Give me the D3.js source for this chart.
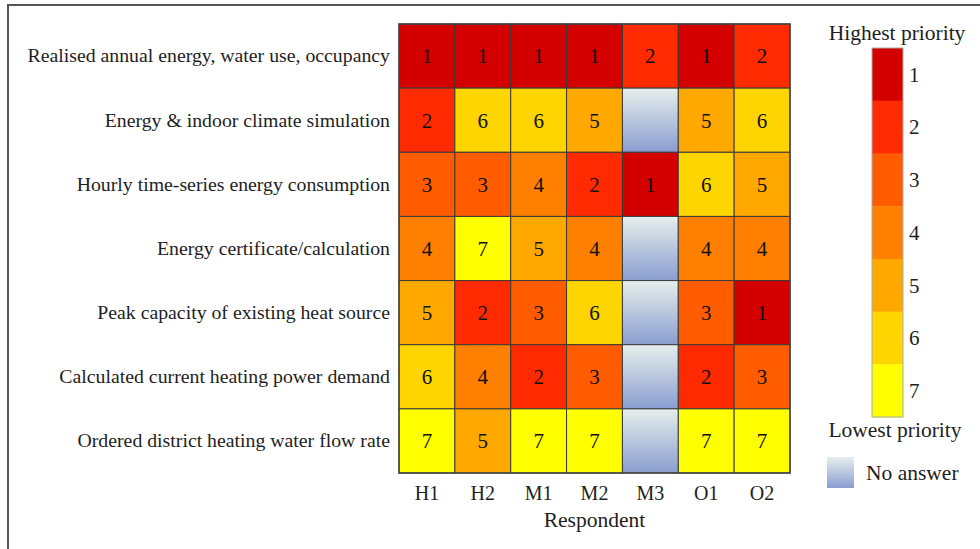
<!DOCTYPE html>
<html>
<head>
<meta charset="utf-8">
<script src="https://cdn.jsdelivr.net/npm/d3@7"></script>
<style>
  html, body { margin: 0; padding: 0; background: #fff; }
  svg { display: block; }
  svg text { font-family: "Liberation Serif", "DejaVu Serif", serif; }
</style>
</head>
<body>
<div id="chart"></div>
<script>
const criteria = [
  'Realised annual energy, water use, occupancy',
  'Energy & indoor climate simulation',
  'Hourly time-series energy consumption',
  'Energy certificate/calculation',
  'Peak capacity of existing heat source',
  'Calculated current heating power demand',
  'Ordered district heating water flow rate'
];
const respondents = ['H1', 'H2', 'M1', 'M2', 'M3', 'O1', 'O2'];
// one array per respondent, ordered like criteria; null = no answer
const rankH1 = [1, 2, 3, 4, 5, 6, 7];
const rankH2 = [1, 6, 3, 7, 2, 4, 5];
const rankM1 = [1, 6, 4, 5, 3, 2, 7];
const rankM2 = [1, 5, 2, 4, 6, 3, 7];
const rankM3 = [2, null, 1, null, null, null, null];
const rankO1 = [1, 5, 6, 4, 3, 2, 7];
const rankO2 = [2, 6, 5, 4, 1, 3, 7];
const priorities = [1, 2, 3, 4, 5, 6, 7];
const priorityColors = ['#d40000', '#ff2a00', '#ff5c00', '#ff8000', '#ffa800', '#ffd500', '#ffff00'];

const ranks = [rankH1, rankH2, rankM1, rankM2, rankM3, rankO1, rankO2];
const cells = [];
respondents.forEach((r, i) => {
  criteria.forEach((c, j) => cells.push({ respondent: r, criterion: c, value: ranks[i][j] }));
});

const width = 980, height = 549;
const margin = { top: 24, left: 399, right: 190, bottom: 76 };
const innerW = width - margin.left - margin.right;
const innerH = height - margin.top - margin.bottom;
const ink = '#1e1e1e';

const svg = d3.select('#chart').append('svg').attr('width', width).attr('height', height);

const defs = svg.append('defs');
const grad = defs.append('linearGradient').attr('id', 'noAnswer').attr('x1', 0).attr('y1', 0).attr('x2', 0).attr('y2', 1);
grad.append('stop').attr('offset', '0%').attr('stop-color', '#e6efec');
grad.append('stop').attr('offset', '100%').attr('stop-color', '#8a9dd0');

// outer frame (only left and top edges are visible in the crop)
svg.append('path')
  .attr('d', `M8,${height} L8,5 L${width},5`)
  .attr('fill', 'none').attr('stroke', '#555').attr('stroke-width', 2);

const g = svg.append('g').attr('transform', `translate(${margin.left},${margin.top})`);

const x = d3.scaleBand().domain(respondents).range([0, innerW]);
const y = d3.scaleBand().domain(criteria).range([0, innerH]);
const color = d3.scaleOrdinal().domain(priorities).range(priorityColors);

g.selectAll('rect.cell').data(cells).enter().append('rect')
  .attr('class', 'cell')
  .attr('x', d => x(d.respondent))
  .attr('y', d => y(d.criterion))
  .attr('width', x.bandwidth())
  .attr('height', y.bandwidth())
  .attr('fill', d => d.value == null ? 'url(#noAnswer)' : color(d.value))
  .attr('stroke', '#3a3a3a')
  .attr('stroke-width', 1);

g.selectAll('text.val').data(cells.filter(d => d.value != null)).enter().append('text')
  .attr('class', 'val')
  .attr('x', d => x(d.respondent) + x.bandwidth() / 2)
  .attr('y', d => y(d.criterion) + y.bandwidth() / 2)
  .attr('dy', '0.35em')
  .attr('text-anchor', 'middle')
  .style('font-size', '21px')
  .attr('fill', '#111')
  .text(d => d.value);

g.append('rect').attr('width', innerW).attr('height', innerH)
  .attr('fill', 'none').attr('stroke', '#444').attr('stroke-width', 1.5);

// row labels
const yAxis = g.append('g').call(d3.axisLeft(y).tickSize(0).tickPadding(9));
yAxis.select('.domain').remove();
yAxis.selectAll('text').style('font-size', '19.8px').attr('fill', ink);

// column labels
const xAxis = g.append('g').attr('transform', `translate(0,${innerH})`)
  .call(d3.axisBottom(x).tickSize(0).tickPadding(13));
xAxis.select('.domain').remove();
xAxis.selectAll('text').style('font-size', '20px').attr('fill', ink);

g.append('text')
  .attr('x', innerW / 2).attr('y', innerH + 54)
  .attr('text-anchor', 'middle').style('font-size', '21.5px').attr('fill', ink)
  .text('Respondent');

// legend colour bar
const legX = 872, legW = 31, legTop = 48, legBottom = 417;
const ly = d3.scaleBand().domain(priorities).range([legTop, legBottom]);
const leg = svg.append('g');
leg.selectAll('rect').data(priorities).enter().append('rect')
  .attr('x', legX).attr('y', d => ly(d))
  .attr('width', legW).attr('height', ly.bandwidth() + 0.5)
  .attr('fill', d => color(d));
leg.append('rect').attr('x', legX).attr('y', legTop).attr('width', legW).attr('height', legBottom - legTop)
  .attr('fill', 'none').attr('stroke', '#aaa').attr('stroke-width', 1);
leg.selectAll('text.tick').data(priorities).enter().append('text')
  .attr('class', 'tick')
  .attr('x', legX + legW + 6).attr('y', d => ly(d) + ly.bandwidth() / 2)
  .attr('dy', '0.35em').style('font-size', '21px').attr('fill', ink)
  .text(d => d);

svg.append('text').attr('x', 897).attr('y', 40).attr('text-anchor', 'middle')
  .style('font-size', '21.5px').attr('fill', ink).text('Highest priority');
svg.append('text').attr('x', 895).attr('y', 437).attr('text-anchor', 'middle')
  .style('font-size', '21.5px').attr('fill', ink).text('Lowest priority');

svg.append('rect').attr('x', 827).attr('y', 457).attr('width', 27).attr('height', 31)
  .attr('fill', 'url(#noAnswer)');
svg.append('text').attr('x', 866).attr('y', 480)
  .style('font-size', '21.5px').attr('fill', ink).text('No answer');
</script>
</body>
</html>
